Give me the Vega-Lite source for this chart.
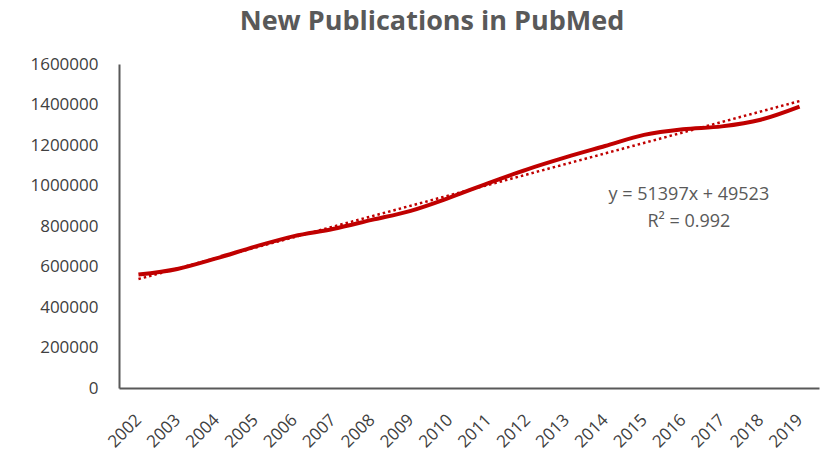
{
  "$schema": "https://vega.github.io/schema/vega-lite/v6.json",
  "width": 700,
  "height": 324,
  "autosize": {"type": "none"},
  "padding": {"left": 119, "top": 64, "right": 6, "bottom": 68},
  "background": "white",
  "title": {
    "text": "New Publications in PubMed",
    "font": "Open Sans",
    "fontSize": 27,
    "fontWeight": "bold",
    "color": "#595959",
    "anchor": "middle",
    "dx": -37,
    "offset": 19
  },
  "datasets": {
    "pubs": [
      {"year": 2002, "count": 560000},
      {"year": 2003, "count": 588000},
      {"year": 2004, "count": 640000},
      {"year": 2005, "count": 698000},
      {"year": 2006, "count": 750000},
      {"year": 2007, "count": 785000},
      {"year": 2008, "count": 830000},
      {"year": 2009, "count": 875000},
      {"year": 2010, "count": 940000},
      {"year": 2011, "count": 1012000},
      {"year": 2012, "count": 1080000},
      {"year": 2013, "count": 1140000},
      {"year": 2014, "count": 1195000},
      {"year": 2015, "count": 1250000},
      {"year": 2016, "count": 1278000},
      {"year": 2017, "count": 1292000},
      {"year": 2018, "count": 1325000},
      {"year": 2019, "count": 1390000}
    ],
    "trend": [
      {"year": 2002, "count": 538000},
      {"year": 2019, "count": 1417000}
    ],
    "notes": [
      {"year": 2016, "count": 953000, "label": "y = 51397x + 49523"},
      {"year": 2016, "count": 820000, "label": "R² = 0.992"}
    ]
  },
  "encoding": {
    "x": {
      "field": "year",
      "type": "ordinal",
      "scale": {"type": "point", "padding": 0.5},
      "axis": {
        "title": null,
        "labelAngle": -45,
        "labelAlign": "right",
        "labelBaseline": "middle",
        "labelPadding": 29,
        "labelDx": 5,
        "labelFont": "Open Sans",
        "labelFontSize": 17,
        "labelColor": "#404040",
        "ticks": false,
        "domainColor": "#595959",
        "domainWidth": 2,
        "grid": false
      }
    },
    "y": {
      "field": "count",
      "type": "quantitative",
      "scale": {"domain": [0, 1600000]},
      "axis": {
        "title": null,
        "values": [0, 200000, 400000, 600000, 800000, 1000000, 1200000, 1400000, 1600000],
        "format": "d",
        "labelFont": "Open Sans",
        "labelFontSize": 17,
        "labelColor": "#404040",
        "labelPadding": 21,
        "ticks": false,
        "domainColor": "#595959",
        "domainWidth": 2,
        "grid": false
      }
    }
  },
  "layer": [
    {
      "data": {"name": "pubs"},
      "mark": {"type": "line", "color": "#C00000", "strokeWidth": 4, "interpolate": "monotone"}
    },
    {
      "data": {"name": "trend"},
      "mark": {"type": "line", "color": "#C00000", "strokeWidth": 2.5, "strokeDash": [2.5, 3]}
    },
    {
      "data": {"name": "notes"},
      "mark": {"type": "text", "font": "Open Sans", "fontSize": 18, "color": "#595959", "baseline": "middle", "align": "center", "dx": 6},
      "encoding": {"text": {"field": "label"}}
    }
  ],
  "config": {"view": {"stroke": null}}
}
